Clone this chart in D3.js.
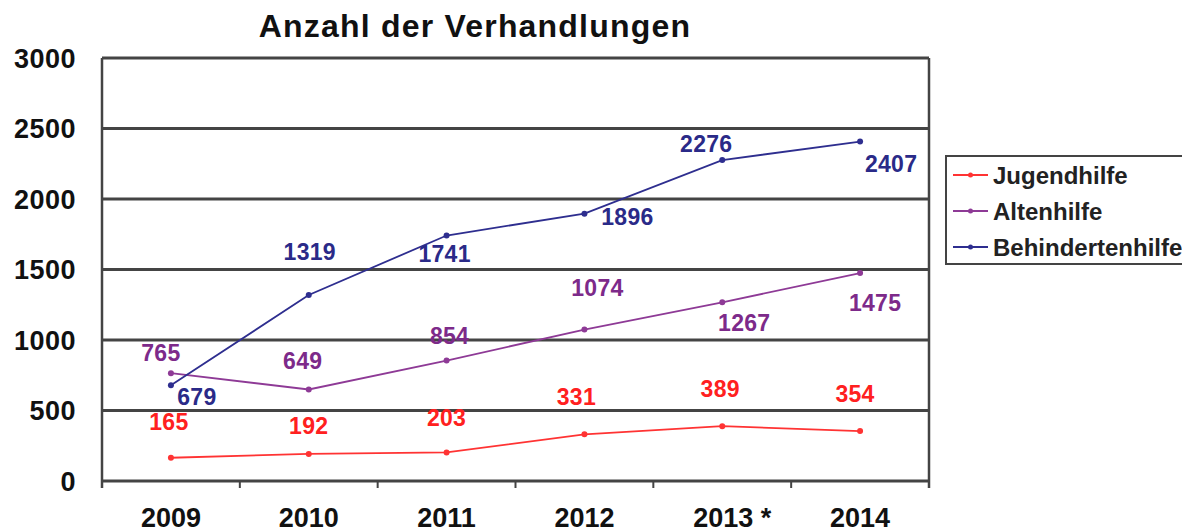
<!DOCTYPE html>
<html>
<head>
<meta charset="utf-8">
<script src="https://cdn.jsdelivr.net/npm/d3@7.9.0/dist/d3.min.js"></script>
<style>
  body { margin: 0; background: #fff; }
  svg { display: block; font-family: "Liberation Sans", Arial, sans-serif; font-weight: bold; }
</style>
</head>
<body>
<div id="chart"></div>
<script>
// Data
const years = ["2009", "2010", "2011", "2012", "2013 *", "2014"];
const jugendhilfe = [165, 192, 203, 331, 389, 354];
const altenhilfe = [765, 649, 854, 1074, 1267, 1475];
const behindertenhilfe = [679, 1319, 1741, 1896, 2276, 2407];
const yTicks = [0, 500, 1000, 1500, 2000, 2500, 3000];

// Label placement (offset of label centre from the point), per series
const jugendOffsets = [[-2, -36], [0, -28], [0, -35], [-8, -38], [-2, -37], [-5, -37]];
const altenOffsets = [[-10, -20], [-6, -29], [3, -25], [13, -42], [22, 20], [15, 30]];
const behindOffsets = [[26, 11], [1, -43], [-2, 18], [43, 3], [-16, -16], [31, 22]];

const series = [
  { name: "Jugendhilfe", values: jugendhilfe, offsets: jugendOffsets, line: "#ff3333", label: "#ff2020" },
  { name: "Altenhilfe", values: altenhilfe, offsets: altenOffsets, line: "#8e3a96", label: "#7d2a8a" },
  { name: "Behindertenhilfe", values: behindertenhilfe, offsets: behindOffsets, line: "#2e2e8f", label: "#2a2a88" }
];

const W = 1182, H = 532;
const plot = { left: 102, right: 929, top: 58, bottom: 481 };

const svg = d3.select("#chart").append("svg")
  .attr("width", W)
  .attr("height", H);

const x = d3.scaleBand().domain(years).range([plot.left, plot.right]);
const y = d3.scaleLinear().domain([0, 3000]).range([plot.bottom, plot.top]);

const gridColor = "#444";

// horizontal gridlines
svg.append("g")
  .selectAll("line")
  .data(yTicks)
  .join("line")
  .attr("x1", plot.left)
  .attr("x2", plot.right)
  .attr("y1", d => y(d))
  .attr("y2", d => y(d))
  .attr("stroke", gridColor)
  .attr("stroke-width", 2.8);

// left and right border
svg.append("g")
  .selectAll("line")
  .data([plot.left, plot.right])
  .join("line")
  .attr("x1", d => d)
  .attr("x2", d => d)
  .attr("y1", plot.top)
  .attr("y2", plot.bottom + 7)
  .attr("stroke", gridColor)
  .attr("stroke-width", 2.5);

// x ticks at category boundaries
const bounds = years.slice(1).map(d => x(d));
svg.append("g")
  .selectAll("line")
  .data(bounds)
  .join("line")
  .attr("x1", d => d)
  .attr("x2", d => d)
  .attr("y1", plot.bottom)
  .attr("y2", plot.bottom + 7)
  .attr("stroke", gridColor)
  .attr("stroke-width", 2);

// y tick labels
svg.append("g")
  .selectAll("text")
  .data(yTicks)
  .join("text")
  .attr("x", 76)
  .attr("y", d => y(d))
  .attr("dy", "0.36em")
  .attr("text-anchor", "end")
  .style("font-size", "27px")
  .style("letter-spacing", "0.5px")
  .attr("fill", "#111")
  .text(d => d);

// x tick labels
svg.append("g")
  .selectAll("text")
  .data(years)
  .join("text")
  .attr("x", d => x(d) + x.bandwidth() / 2 + (d.includes("*") ? 10 : 0))
  .attr("y", 527)
  .attr("text-anchor", "middle")
  .style("font-size", "27px")
  .attr("fill", "#111")
  .text(d => d);

// title
svg.append("text")
  .attr("x", 475)
  .attr("y", 37)
  .attr("text-anchor", "middle")
  .style("font-size", "32px")
  .style("letter-spacing", "1.2px")
  .attr("fill", "#111")
  .text("Anzahl der Verhandlungen");

const cx = i => x(years[i]) + x.bandwidth() / 2;
const line = d3.line()
  .x((d, i) => cx(i))
  .y(d => y(d));

series.forEach(s => {
  const g = svg.append("g");
  g.append("path")
    .datum(s.values)
    .attr("d", line)
    .attr("fill", "none")
    .attr("stroke", s.line)
    .attr("stroke-width", 1.8);
  g.selectAll("circle")
    .data(s.values)
    .join("circle")
    .attr("cx", (d, i) => cx(i))
    .attr("cy", d => y(d))
    .attr("r", 3)
    .attr("fill", s.line);
  g.selectAll("text")
    .data(s.values)
    .join("text")
    .attr("x", (d, i) => cx(i) + s.offsets[i][0])
    .attr("y", (d, i) => y(d) + s.offsets[i][1])
    .attr("dy", "0.36em")
    .attr("text-anchor", "middle")
    .style("font-size", "23px")
    .style("letter-spacing", "0.3px")
    .attr("fill", s.label)
    .text(d => d);
});

// legend
const legend = svg.append("g");
legend.append("rect")
  .attr("x", 946)
  .attr("y", 156)
  .attr("width", 260)
  .attr("height", 108)
  .attr("fill", "#fff")
  .attr("stroke", gridColor)
  .attr("stroke-width", 2);

const rows = legend.selectAll("g.row")
  .data(series)
  .join("g")
  .attr("class", "row")
  .attr("transform", (d, i) => `translate(0,${175 + i * 36})`);
rows.append("line")
  .attr("x1", 953).attr("x2", 988)
  .attr("stroke", d => d.line)
  .attr("stroke-width", 1.8);
rows.append("circle")
  .attr("cx", 970.5)
  .attr("r", 2.5)
  .attr("fill", d => d.line);
rows.append("text")
  .attr("x", 993)
  .attr("dy", "0.36em")
  .style("font-size", "24px")
  .attr("fill", "#222")
  .text(d => d.name);
</script>
</body>
</html>
